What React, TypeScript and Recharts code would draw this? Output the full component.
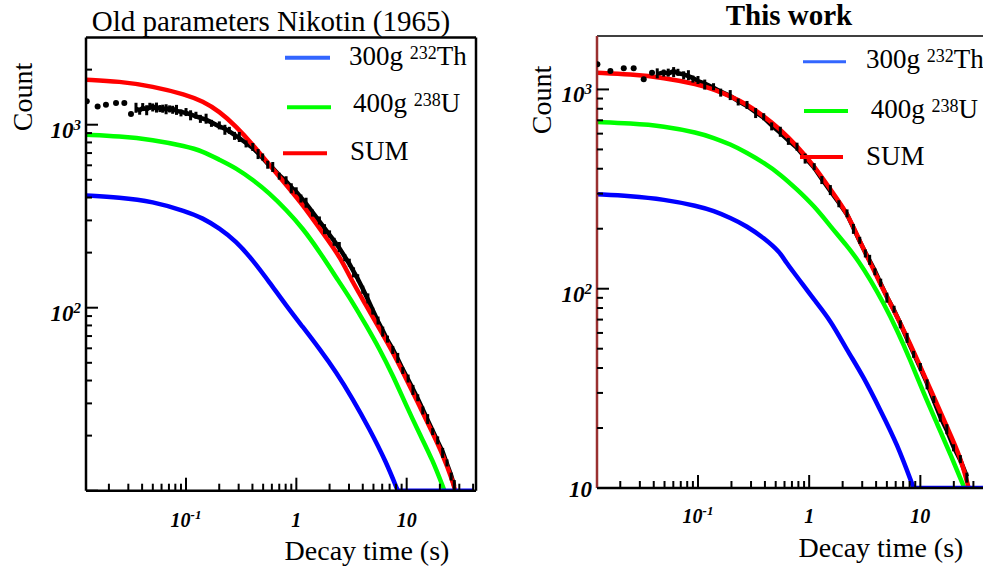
import React from 'react';
import { ComposedChart, Line, XAxis, YAxis, ReferenceLine } from 'recharts';

const SERIF = '"Liberation Serif", "Times New Roman", Times, serif';

type Pt = [number, number];

// ---------- Left panel: Old parameters Nikotin (1965) ----------
const leftTh: Pt[] = [
  [0.0124, 411], [0.0248, 401], [0.0499, 381], [0.1, 336], [0.1415, 309], [0.2004, 272],
  [0.284, 231], [0.403, 182], [0.569, 138], [0.807, 103], [1.143, 78.5], [1.618, 59.7],
  [2.29, 44.6], [3.24, 31.8], [4.59, 21.8], [6.5, 14.4], [8.3, 10],
];
const leftThFloor: Pt[] = [[8.3, 10], [40, 10]];
const leftU: Pt[] = [
  [0.0124, 881], [0.0248, 865], [0.0499, 828], [0.1, 762], [0.1415, 716], [0.2004, 644],
  [0.284, 580], [0.403, 500], [0.569, 423], [0.807, 343], [1.143, 272], [1.618, 203],
  [2.45, 138], [3.24, 107], [4.29, 80], [5.66, 59.7], [7.48, 42.8], [9.89, 29.3],
  [13, 20.6], [17.2, 14.7], [22, 10],
];
const leftSum: Pt[] = [
  [0.0124, 1762], [0.0248, 1726], [0.0499, 1622], [0.1, 1459], [0.1415, 1343], [0.2004, 1184],
  [0.284, 980], [0.403, 778], [0.569, 604], [0.807, 470], [1.143, 365], [1.618, 272],
  [2.29, 203], [2.64, 176], [3.24, 138], [4.29, 103], [5.66, 76.8], [7.48, 57.3], [9.89, 40.9],
  [13, 29.3], [17.2, 20.6], [21.2, 15.8], [26.2, 11.2], [27.5, 10],
];
const leftDataSparse: Pt[] = [
  [0.0126, 1343], [0.0158, 1258], [0.0188, 1285], [0.0232, 1314], [0.0276, 1314], [0.0317, 1143],
];
const leftDataDense: Pt[] = [
  [0.0352, 1222], [0.038, 1200], [0.0405, 1233], [0.044, 1215], [0.047, 1245], [0.0499, 1258],
  [0.054, 1225], [0.058, 1240], [0.0615, 1208], [0.066, 1230], [0.071, 1205], [0.0757, 1222],
  [0.082, 1190], [0.09, 1175], [0.1, 1158], [0.11, 1140], [0.123, 1112], [0.135, 1090],
  [0.152, 1065], [0.17, 1030], [0.2004, 979], [0.225, 950], [0.247, 920], [0.275, 880],
  [0.304, 846], [0.35, 795], [0.403, 746], [0.45, 700], [0.495, 658], [0.55, 612],
  [0.611, 580], [0.7, 530], [0.807, 491], [0.9, 455], [0.997, 430], [1.1, 400],
  [1.225, 370], [1.4, 333], [1.618, 296], [1.8, 272], [2.0, 250], [2.2, 232],
  [2.45, 212], [2.75, 190], [3.02, 174], [3.3, 158], [3.6, 144], [4.0, 127],
  [4.45, 111], [4.93, 97], [5.5, 84], [6.07, 75], [6.7, 66.5], [7.48, 59.5],
  [8.3, 52.5], [9.22, 46], [10.3, 40.5], [11.4, 36], [12.6, 31.8], [14.0, 27.8],
  [15.5, 24.3], [17.2, 21.3], [19.1, 18.6], [21.2, 16.3], [23.2, 14], [25.3, 12.1], [27, 10.6],
];

// ---------- Right panel: This work ----------
const rightTh: Pt[] = [
  [0.01235, 298], [0.0246, 292], [0.0492, 281], [0.1, 260], [0.138, 246], [0.195, 227],
  [0.276, 206], [0.39, 180], [0.55, 152], [0.61, 137], [0.777, 115], [1.11, 87.8],
  [1.55, 69.7], [2.19, 49.2], [3.09, 36.1], [4.36, 24.6], [6.17, 16.7], [8.7, 10],
];
const rightThFloor: Pt[] = [[8.7, 10], [36.6, 10]];
const rightU: Pt[] = [
  [0.01235, 686], [0.0246, 676], [0.0492, 655], [0.1, 606], [0.138, 572], [0.195, 531],
  [0.276, 481], [0.39, 429], [0.55, 375], [0.777, 315], [1.11, 260], [1.55, 206],
  [2.19, 164], [2.8, 137], [3.55, 111], [4.68, 84.5], [6.17, 62.1], [8.11, 43.9],
  [10.7, 29.9], [14.1, 21.1], [18.5, 14.9], [24.5, 10.2], [25, 10],
];
const rightSum: Pt[] = [
  [0.01235, 1213], [0.0246, 1191], [0.0492, 1146], [0.1, 1061], [0.138, 1001], [0.195, 926],
  [0.276, 841], [0.39, 735], [0.55, 631], [0.777, 520], [1.11, 413], [1.55, 315],
  [2.19, 241], [2.8, 177], [3.45, 139], [4.36, 106], [5.75, 78.2], [7.57, 57.4], [10, 40.6],
  [13.2, 28.7], [17.3, 20.3], [22.9, 14.4], [27.2, 10],
];
const rightDataSparse: Pt[] = [
  [0.01245, 1337], [0.0163, 1236], [0.0215, 1276], [0.0264, 1276], [0.0325, 1124], [0.0386, 1213],
];
const rightDataDense: Pt[] = [
  [0.043, 1190], [0.0492, 1222], [0.054, 1200], [0.0604, 1236], [0.066, 1205], [0.0743, 1191],
  [0.082, 1165], [0.09, 1140], [0.1, 1102], [0.115, 1070], [0.138, 1020], [0.16, 975],
  [0.195, 926], [0.23, 875], [0.276, 826], [0.33, 770], [0.39, 721], [0.46, 660],
  [0.55, 606], [0.65, 555], [0.777, 510], [0.92, 455], [1.11, 405], [1.3, 355],
  [1.55, 309], [1.85, 270], [2.19, 236], [2.5, 202], [2.85, 173], [3.2, 152], [3.5, 138],
  [3.9, 123], [4.4, 106], [5.0, 91.2], [5.8, 78], [6.6, 67], [7.6, 56],
  [8.7, 47.4], [10.0, 40], [11.5, 33.5], [13.2, 27.5], [15.1, 22.8], [17.3, 19.5],
  [19.9, 16.1], [22.9, 13.8], [26.2, 11.4],
];

// ---------- Ticks ----------
const leftXTicks = [0.02, 0.03, 0.04, 0.05, 0.06, 0.07, 0.08, 0.09, 0.1, 0.2, 0.3, 0.4, 0.5, 0.6, 0.7, 0.8, 0.9, 1, 2, 3, 4, 5, 6, 7, 8, 9, 10, 20, 30, 40];
const rightXTicks = [0.02, 0.03, 0.04, 0.05, 0.06, 0.07, 0.08, 0.09, 0.1, 0.2, 0.3, 0.4, 0.5, 0.6, 0.7, 0.8, 0.9, 1, 2, 3, 4, 5, 6, 7, 8, 9, 10, 20, 30];
const leftYTicks = [10, 20, 30, 40, 50, 60, 70, 80, 90, 100, 200, 300, 400, 500, 600, 700, 800, 900, 1000, 2000];
const rightYTicks = [10, 20, 30, 40, 50, 60, 70, 80, 90, 100, 200, 300, 400, 500, 600, 700, 800, 900, 1000];
const xMajors = [0.1, 1, 10];
const yMajors = [10, 100, 1000];
const xTickLabels: Record<string, string[]> = { '0.1': ['10', '-1'], '1': ['1'], '10': ['10'] };
const leftYTickLabels: Record<string, string[]> = { '100': ['10', '2'], '1000': ['10', '3'] };
const rightYTickLabels: Record<string, string[]> = { '10': ['10'], '100': ['10', '2'], '1000': ['10', '3'] };

const rows = (pts: Pt[]) => pts.map(([t, c]) => ({ t, c }));

const Y_AXIS_W = 60;
const X_AXIS_H = 40;

const makeXTick = (labelDy: number) => (props: any) => {
  const { x, y, payload } = props;
  const v = payload.value;
  const major = xMajors.includes(v);
  const lab = xTickLabels[String(v)];
  return (
    <g>
      <line x1={x} x2={x} y1={y} y2={y - (major ? 13 : 7)} stroke="#000" strokeWidth={2} />
      {lab && (
        <text x={x} y={y + labelDy} textAnchor="middle" style={{ fontFamily: SERIF }} fontWeight="bold" fontStyle="italic" fontSize={20} fill="#000">
          {lab[0]}
          {lab[1] ? <tspan fontSize={13} dy={-8}>{lab[1]}</tspan> : null}
        </text>
      )}
    </g>
  );
};

const makeYTick = (labels: Record<string, string[]>) => (props: any) => {
  const { x, y, payload } = props;
  const v = payload.value;
  const major = yMajors.includes(v);
  const lab = labels[String(v)];
  return (
    <g>
      <line x1={x} x2={x + (major ? 12 : 6)} y1={y} y2={y} stroke="#000" strokeWidth={2} />
      {lab && (
        <text x={x - 5} y={y + (v === 10 ? 9 : 13)} textAnchor="end" style={{ fontFamily: SERIF }} fontWeight="bold" fontStyle="italic" fontSize={23} fill="#000">
          {lab[0]}
          {lab[1] ? <tspan fontSize={15} dy={-8}>{lab[1]}</tspan> : null}
        </text>
      )}
    </g>
  );
};

const errDot = (props: any) => {
  const { cx, cy, index } = props;
  if (cx == null || cy == null) return <g key={index} />;
  const h = index % 3 === 0 ? 10 : index % 3 === 1 ? 7 : 8;
  const off = index % 2 === 0 ? -1 : 1;
  return <rect key={index} x={cx - 1.5} y={cy - h / 2 + off} width={3} height={h} fill="#000" />;
};

type PanelProps = {
  left: number;
  width: number;
  plotLeft: number;
  plotTop: number;
  plotRight: number;
  plotBottom: number;
  xDomain: [number, number];
  yDomain: [number, number];
  xTicks: number[];
  yTicks: number[];
  yLabels: Record<string, string[]>;
  xLabelDy: number;
  th: Pt[];
  thFloor: Pt[];
  u: Pt[];
  sum: Pt[];
  sparse: Pt[];
  dense: Pt[];
  yAxisColor: string;
  fullFrame: boolean;
};

function Panel(p: PanelProps) {
  const margin = {
    top: p.plotTop,
    left: p.plotLeft - Y_AXIS_W,
    right: p.width - p.plotRight,
    bottom: 569 - p.plotBottom - X_AXIS_H,
  };
  return (
    <div style={{ position: 'absolute', left: p.left, top: 0 }}>
      <ComposedChart width={p.width} height={569} margin={margin}>
        <XAxis
          dataKey="t"
          type="number"
          scale="log"
          domain={p.xDomain}
          allowDataOverflow
          ticks={p.xTicks}
          interval={0}
          height={X_AXIS_H}
          tickSize={0}
          tickMargin={0}
          tickLine={false}
          axisLine={{ stroke: '#000', strokeWidth: 2.5 }}
          tick={makeXTick(p.xLabelDy)}
        />
        <YAxis
          type="number"
          scale="log"
          domain={p.yDomain}
          allowDataOverflow
          ticks={p.yTicks}
          interval={0}
          width={Y_AXIS_W}
          tickSize={0}
          tickMargin={0}
          tickLine={false}
          axisLine={{ stroke: p.yAxisColor, strokeWidth: 2.5 }}
          tick={makeYTick(p.yLabels)}
        />
        <ReferenceLine y={p.yDomain[1]} stroke="#000" strokeWidth={p.fullFrame ? 2.5 : 1.5} />
        {p.fullFrame && <ReferenceLine x={p.xDomain[1]} stroke="#000" strokeWidth={2.5} />}
        <Line
          data={rows(p.sparse)}
          dataKey="c"
          stroke="none"
          dot={{ r: 3, fill: '#000', stroke: 'none' }}
          isAnimationActive={false}
        />
        <Line
          data={rows(p.dense)}
          dataKey="c"
          stroke="#000"
          strokeWidth={4.5}
          dot={errDot}
          isAnimationActive={false}
        />
        <Line data={rows(p.u)} dataKey="c" type="basis" stroke="#00ff00" strokeWidth={4.5} dot={false} isAnimationActive={false} />
        <Line data={rows(p.sum)} dataKey="c" type="basis" stroke="#ff0000" strokeWidth={4.5} dot={false} isAnimationActive={false} />
        <Line data={rows(p.th)} dataKey="c" type="basis" stroke="#0000ff" strokeWidth={4.5} dot={false} isAnimationActive={false} />
        <Line data={rows(p.thFloor)} dataKey="c" type="linear" stroke="#0000ff" strokeWidth={4.5} dot={false} isAnimationActive={false} />
      </ComposedChart>
    </div>
  );
}

const legendText = { fontSize: 27, fill: '#000', style: { fontFamily: SERIF } } as const;
const titleStyle = { fontFamily: SERIF };

function Overlay() {
  return (
    <svg width={983} height={569} style={{ position: 'absolute', left: 0, top: 0, pointerEvents: 'none' }}>
      {/* titles */}
      <text x={271} y={31} textAnchor="middle" style={titleStyle} fontSize={29} fill="#000">Old parameters Nikotin (1965)</text>
      <text x={789} y={25} textAnchor="middle" style={titleStyle} fontSize={29} fontWeight="bold" fill="#000">This work</text>
      {/* axis titles */}
      <text transform="translate(32,97) rotate(-90)" textAnchor="middle" style={titleStyle} fontSize={28} fill="#000">Count</text>
      <text transform="translate(551,100) rotate(-90)" textAnchor="middle" style={titleStyle} fontSize={28} fill="#000">Count</text>
      <text x={367} y={560} textAnchor="middle" style={titleStyle} fontSize={28} fill="#000">Decay time (s)</text>
      <text x={881} y={557} textAnchor="middle" style={titleStyle} fontSize={28} fill="#000">Decay time (s)</text>
      {/* left legend */}
      <line x1={285} x2={330} y1={57.7} y2={57.7} stroke="#3366ff" strokeWidth={4} />
      <text x={349} y={65} {...legendText}>{'300g '}<tspan fontSize={18} dy={-6}>232</tspan><tspan dy={6}>Th</tspan></text>
      <line x1={287} x2={331} y1={107.3} y2={107.3} stroke="#00ff00" strokeWidth={4} />
      <text x={353} y={112} {...legendText}>{'400g '}<tspan fontSize={18} dy={-6}>238</tspan><tspan dy={6}>U</tspan></text>
      <line x1={283} x2={327} y1={153.3} y2={153.3} stroke="#ff0000" strokeWidth={4} />
      <text x={350} y={160} {...legendText}>SUM</text>
      {/* right legend */}
      <line x1={803} x2={846} y1={61.7} y2={61.7} stroke="#3366ff" strokeWidth={3} />
      <text x={866} y={68.3} {...legendText}>{'300g '}<tspan fontSize={18} dy={-6}>232</tspan><tspan dy={6}>Th</tspan></text>
      <line x1={804} x2={848} y1={111} y2={111} stroke="#00ff00" strokeWidth={4} />
      <text x={870.7} y={118.3} {...legendText}>{'400g '}<tspan fontSize={18} dy={-6}>238</tspan><tspan dy={6}>U</tspan></text>
      <line x1={800} x2={843} y1={157} y2={157} stroke="#ff0000" strokeWidth={4} />
      <text x={866} y={165} {...legendText}>SUM</text>
    </svg>
  );
}

export default function App() {
  return (
    <div style={{ position: 'absolute', left: 0, top: 0, width: 983, height: 569, overflow: 'hidden', background: '#fff' }}>
      <Panel
        left={0}
        width={490}
        plotLeft={86}
        plotTop={37.4}
        plotRight={476}
        plotBottom={490.7}
        xDomain={[0.0124, 42.5]}
        yDomain={[10, 3000]}
        xTicks={leftXTicks}
        yTicks={leftYTicks}
        yLabels={leftYTickLabels}
        xLabelDy={36}
        th={leftTh}
        thFloor={leftThFloor}
        u={leftU}
        sum={leftSum}
        sparse={leftDataSparse}
        dense={leftDataDense}
        yAxisColor="#000"
        fullFrame
      />
      <Panel
        left={490}
        width={493}
        plotLeft={107}
        plotTop={36}
        plotRight={493}
        plotBottom={488}
        xDomain={[0.01235, 36.6]}
        yDomain={[10, 1854]}
        xTicks={rightXTicks}
        yTicks={rightYTicks}
        yLabels={rightYTickLabels}
        xLabelDy={35}
        th={rightTh}
        thFloor={rightThFloor}
        u={rightU}
        sum={rightSum}
        sparse={rightDataSparse}
        dense={rightDataDense}
        yAxisColor="#9a3030"
        fullFrame={false}
      />
      <Overlay />
    </div>
  );
}
